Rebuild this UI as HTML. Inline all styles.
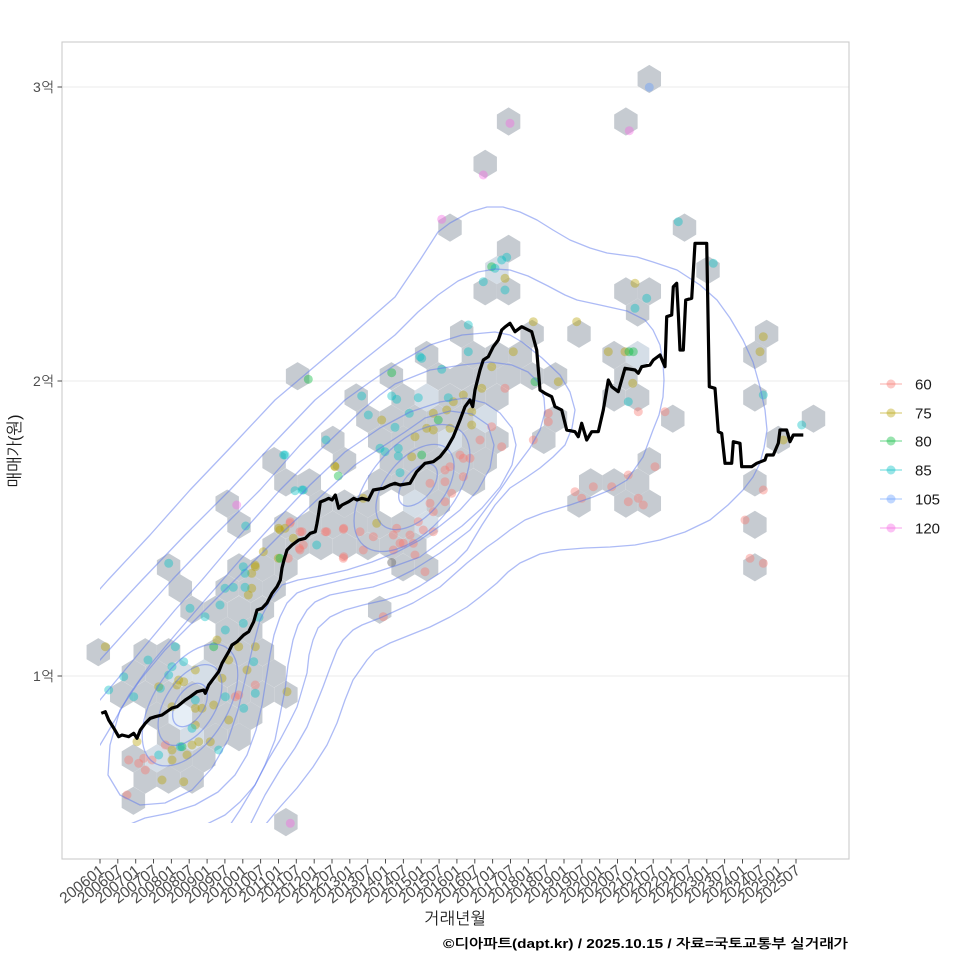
<!DOCTYPE html>
<html><head><meta charset="utf-8"><style>
html,body{margin:0;padding:0;background:#fff;}
svg{display:block;}
text{font-family:"Liberation Sans","NanumGothic","Noto Sans CJK KR",sans-serif;}
</style></head><body>
<svg width="960" height="960" viewBox="0 0 960 960" xmlns="http://www.w3.org/2000/svg">
<defs>
<polygon id="hx" points="0,-14.1 11.72,-7.05 11.72,7.05 0,14.1 -11.72,7.05 -11.72,-7.05"/>
<clipPath id="pc"><rect x="62" y="42" width="787" height="817"/></clipPath>
<clipPath id="cc"><rect x="100" y="79" width="713" height="744"/></clipPath>
</defs>
<rect width="960" height="960" fill="#fff"/>
<g stroke="#ebebeb" stroke-width="1.1">
<line x1="62" y1="87" x2="849" y2="87"/><line x1="62" y1="381" x2="849" y2="381"/><line x1="62" y1="676" x2="849" y2="676"/>
</g>
<g clip-path="url(#pc)">
<g fill="#c6cbd1">
<use href="#hx" x="649.3" y="79"/>
<use href="#hx" x="508.6" y="121.5"/><use href="#hx" x="625.9" y="121.5"/>
<use href="#hx" x="485.2" y="163.9"/>
<use href="#hx" x="450" y="227.6"/><use href="#hx" x="684.5" y="227.6"/>
<use href="#hx" x="508.6" y="248.8"/>
<use href="#hx" x="708" y="270.1"/>
<use href="#hx" x="485.2" y="291.3"/><use href="#hx" x="508.6" y="291.3"/><use href="#hx" x="625.9" y="291.3"/><use href="#hx" x="649.3" y="291.3"/>
<use href="#hx" x="637.6" y="312.5"/>
<use href="#hx" x="461.7" y="333.8"/><use href="#hx" x="532.1" y="333.8"/><use href="#hx" x="579" y="333.8"/><use href="#hx" x="766.6" y="333.8"/>
<use href="#hx" x="426.6" y="355"/><use href="#hx" x="473.4" y="355"/><use href="#hx" x="496.9" y="355"/><use href="#hx" x="520.3" y="355"/><use href="#hx" x="614.1" y="355"/><use href="#hx" x="754.9" y="355"/>
<use href="#hx" x="297.6" y="376.2"/><use href="#hx" x="391.4" y="376.2"/><use href="#hx" x="438.3" y="376.2"/><use href="#hx" x="461.7" y="376.2"/><use href="#hx" x="485.2" y="376.2"/><use href="#hx" x="508.6" y="376.2"/><use href="#hx" x="532.1" y="376.2"/><use href="#hx" x="555.5" y="376.2"/><use href="#hx" x="625.9" y="376.2"/>
<use href="#hx" x="356.2" y="397.5"/><use href="#hx" x="403.1" y="397.5"/><use href="#hx" x="450" y="397.5"/><use href="#hx" x="473.4" y="397.5"/><use href="#hx" x="496.9" y="397.5"/><use href="#hx" x="614.1" y="397.5"/><use href="#hx" x="637.6" y="397.5"/><use href="#hx" x="754.9" y="397.5"/>
<use href="#hx" x="367.9" y="418.7"/><use href="#hx" x="391.4" y="418.7"/><use href="#hx" x="414.8" y="418.7"/><use href="#hx" x="438.3" y="418.7"/><use href="#hx" x="461.7" y="418.7"/><use href="#hx" x="555.5" y="418.7"/><use href="#hx" x="672.8" y="418.7"/><use href="#hx" x="813.5" y="418.7"/>
<use href="#hx" x="332.8" y="439.9"/><use href="#hx" x="379.7" y="439.9"/><use href="#hx" x="403.1" y="439.9"/><use href="#hx" x="426.6" y="439.9"/><use href="#hx" x="473.4" y="439.9"/><use href="#hx" x="496.9" y="439.9"/><use href="#hx" x="543.8" y="439.9"/><use href="#hx" x="778.3" y="439.9"/>
<use href="#hx" x="274.1" y="461.1"/><use href="#hx" x="344.5" y="461.1"/><use href="#hx" x="391.4" y="461.1"/><use href="#hx" x="414.8" y="461.1"/><use href="#hx" x="438.3" y="461.1"/><use href="#hx" x="461.7" y="461.1"/><use href="#hx" x="485.2" y="461.1"/><use href="#hx" x="649.3" y="461.1"/>
<use href="#hx" x="285.9" y="482.4"/><use href="#hx" x="309.3" y="482.4"/><use href="#hx" x="379.7" y="482.4"/><use href="#hx" x="403.1" y="482.4"/><use href="#hx" x="426.6" y="482.4"/><use href="#hx" x="450" y="482.4"/><use href="#hx" x="473.4" y="482.4"/><use href="#hx" x="590.7" y="482.4"/><use href="#hx" x="614.1" y="482.4"/><use href="#hx" x="637.6" y="482.4"/><use href="#hx" x="754.9" y="482.4"/>
<use href="#hx" x="227.2" y="503.6"/><use href="#hx" x="321" y="503.6"/><use href="#hx" x="344.5" y="503.6"/><use href="#hx" x="367.9" y="503.6"/><use href="#hx" x="438.3" y="503.6"/><use href="#hx" x="579" y="503.6"/><use href="#hx" x="625.9" y="503.6"/><use href="#hx" x="649.3" y="503.6"/>
<use href="#hx" x="239" y="524.8"/><use href="#hx" x="285.9" y="524.8"/><use href="#hx" x="309.3" y="524.8"/><use href="#hx" x="332.8" y="524.8"/><use href="#hx" x="356.2" y="524.8"/><use href="#hx" x="379.7" y="524.8"/><use href="#hx" x="403.1" y="524.8"/><use href="#hx" x="754.9" y="524.8"/>
<use href="#hx" x="274.1" y="546.1"/><use href="#hx" x="297.6" y="546.1"/><use href="#hx" x="321" y="546.1"/><use href="#hx" x="344.5" y="546.1"/><use href="#hx" x="367.9" y="546.1"/><use href="#hx" x="391.4" y="546.1"/><use href="#hx" x="414.8" y="546.1"/>
<use href="#hx" x="168.6" y="567.3"/><use href="#hx" x="239" y="567.3"/><use href="#hx" x="262.4" y="567.3"/><use href="#hx" x="285.9" y="567.3"/><use href="#hx" x="403.1" y="567.3"/><use href="#hx" x="426.6" y="567.3"/><use href="#hx" x="754.9" y="567.3"/>
<use href="#hx" x="180.3" y="588.5"/><use href="#hx" x="227.2" y="588.5"/><use href="#hx" x="250.7" y="588.5"/><use href="#hx" x="274.1" y="588.5"/>
<use href="#hx" x="192.1" y="609.8"/><use href="#hx" x="215.5" y="609.8"/><use href="#hx" x="239" y="609.8"/><use href="#hx" x="262.4" y="609.8"/><use href="#hx" x="379.7" y="609.8"/>
<use href="#hx" x="227.2" y="631"/><use href="#hx" x="250.7" y="631"/>
<use href="#hx" x="98.3" y="652.2"/><use href="#hx" x="145.2" y="652.2"/><use href="#hx" x="168.6" y="652.2"/><use href="#hx" x="215.5" y="652.2"/><use href="#hx" x="239" y="652.2"/><use href="#hx" x="262.4" y="652.2"/>
<use href="#hx" x="133.4" y="673.4"/><use href="#hx" x="156.9" y="673.4"/><use href="#hx" x="227.2" y="673.4"/><use href="#hx" x="250.7" y="673.4"/><use href="#hx" x="274.1" y="673.4"/>
<use href="#hx" x="121.7" y="694.7"/><use href="#hx" x="145.2" y="694.7"/><use href="#hx" x="168.6" y="694.7"/><use href="#hx" x="192.1" y="694.7"/><use href="#hx" x="215.5" y="694.7"/><use href="#hx" x="239" y="694.7"/><use href="#hx" x="262.4" y="694.7"/><use href="#hx" x="285.9" y="694.7"/>
<use href="#hx" x="156.9" y="715.9"/><use href="#hx" x="203.8" y="715.9"/><use href="#hx" x="227.2" y="715.9"/><use href="#hx" x="250.7" y="715.9"/>
<use href="#hx" x="168.6" y="737.1"/><use href="#hx" x="215.5" y="737.1"/><use href="#hx" x="239" y="737.1"/>
<use href="#hx" x="133.4" y="758.4"/><use href="#hx" x="180.3" y="758.4"/><use href="#hx" x="203.8" y="758.4"/>
<use href="#hx" x="145.2" y="779.6"/><use href="#hx" x="168.6" y="779.6"/><use href="#hx" x="192.1" y="779.6"/>
<use href="#hx" x="133.4" y="800.8"/>
<use href="#hx" x="285.9" y="822.1"/>
</g>
<g fill="#d5dee7">
<use href="#hx" x="496.9" y="270.1"/><use href="#hx" x="637.6" y="355"/><use href="#hx" x="426.6" y="397.5"/><use href="#hx" x="485.2" y="418.7"/><use href="#hx" x="450" y="439.9"/><use href="#hx" x="414.8" y="503.6"/><use href="#hx" x="426.6" y="524.8"/>
<use href="#hx" x="180.3" y="673.4"/><use href="#hx" x="203.8" y="673.4"/><use href="#hx" x="192.1" y="737.1"/><use href="#hx" x="156.9" y="758.4"/>
</g>
<g fill="#e6eef6">
<use href="#hx" x="180.3" y="715.9"/>
</g>
<g fill="#F8766D" fill-opacity="0.4">
<circle cx="450" cy="466.7" r="4.5"/><circle cx="445" cy="470" r="4.5"/><circle cx="463.3" cy="458.3" r="4.5"/><circle cx="470" cy="458.3" r="4.5"/><circle cx="460" cy="455" r="4.5"/><circle cx="430" cy="483.3" r="4.5"/><circle cx="445" cy="481.7" r="4.5"/><circle cx="451.7" cy="493.3" r="4.5"/><circle cx="463.3" cy="476.7" r="4.5"/><circle cx="430" cy="503.3" r="4.5"/><circle cx="433.3" cy="511.7" r="4.5"/><circle cx="445" cy="501.7" r="4.5"/><circle cx="418.3" cy="521.7" r="4.5"/><circle cx="396.7" cy="528.3" r="4.5"/><circle cx="410" cy="535" r="4.5"/><circle cx="423.3" cy="530" r="4.5"/><circle cx="433.3" cy="531.7" r="4.5"/><circle cx="393.3" cy="535" r="4.5"/><circle cx="400" cy="543.3" r="4.5"/><circle cx="413.3" cy="543.3" r="4.5"/><circle cx="373.3" cy="536.7" r="4.5"/><circle cx="360" cy="531.7" r="4.5"/><circle cx="343.3" cy="529.3" r="4.5"/><circle cx="326.7" cy="531.7" r="4.5"/><circle cx="363.3" cy="550" r="4.5"/><circle cx="393.3" cy="550" r="4.5"/><circle cx="415" cy="555" r="4.5"/><circle cx="425" cy="571.7" r="4.5"/><circle cx="343.3" cy="558.3" r="4.5"/><circle cx="290" cy="523.3" r="4.5"/><circle cx="300" cy="531.7" r="4.5"/><circle cx="303.3" cy="545" r="4.5"/><circle cx="491.7" cy="426.7" r="4.5"/><circle cx="480" cy="440" r="4.5"/><circle cx="501.7" cy="446.7" r="4.5"/><circle cx="383.3" cy="616.7" r="4.5"/><circle cx="505" cy="388.3" r="4.5"/><circle cx="255.3" cy="685" r="4.5"/><circle cx="235.3" cy="696.7" r="4.5"/><circle cx="238.7" cy="695" r="4.5"/><circle cx="165.3" cy="745" r="4.5"/><circle cx="143.7" cy="758.3" r="4.5"/><circle cx="128.7" cy="760" r="4.5"/><circle cx="138.7" cy="763.3" r="4.5"/><circle cx="145.3" cy="770" r="4.5"/><circle cx="152" cy="760" r="4.5"/><circle cx="127" cy="795" r="4.5"/><circle cx="548.3" cy="413.3" r="4.5"/><circle cx="548.3" cy="421.7" r="4.5"/><circle cx="533.3" cy="440" r="4.5"/><circle cx="638.3" cy="411.7" r="4.5"/><circle cx="665" cy="411.7" r="4.5"/><circle cx="655" cy="466.7" r="4.5"/><circle cx="628.3" cy="475" r="4.5"/><circle cx="575" cy="491.7" r="4.5"/><circle cx="581.7" cy="498.3" r="4.5"/><circle cx="593.3" cy="486.7" r="4.5"/><circle cx="611.7" cy="486.7" r="4.5"/><circle cx="628.3" cy="501.7" r="4.5"/><circle cx="638.3" cy="498.3" r="4.5"/><circle cx="643.3" cy="505" r="4.5"/><circle cx="763.3" cy="490" r="4.5"/><circle cx="745" cy="520" r="4.5"/><circle cx="750" cy="558.3" r="4.5"/><circle cx="763.3" cy="563.3" r="4.5"/><circle cx="300" cy="550" r="4.5"/><circle cx="288.3" cy="558.3" r="4.5"/><circle cx="403.3" cy="543.3" r="4.5"/><circle cx="302" cy="531.7" r="4.5"/><circle cx="325.3" cy="531.7" r="4.5"/><circle cx="343.7" cy="528.3" r="4.5"/><circle cx="299.3" cy="548.3" r="4.5"/><circle cx="343.7" cy="556.7" r="4.5"/><circle cx="290.3" cy="521.7" r="4.5"/>
</g>
<g fill="#B79F00" fill-opacity="0.4">
<circle cx="381.7" cy="420" r="4.5"/><circle cx="426.7" cy="428.3" r="4.5"/><circle cx="433.3" cy="430" r="4.5"/><circle cx="433.3" cy="413.3" r="4.5"/><circle cx="446.7" cy="410" r="4.5"/><circle cx="453.3" cy="401.7" r="4.5"/><circle cx="463.3" cy="395" r="4.5"/><circle cx="471.7" cy="411.7" r="4.5"/><circle cx="471.7" cy="425" r="4.5"/><circle cx="450" cy="428.3" r="4.5"/><circle cx="415" cy="436.7" r="4.5"/><circle cx="411.7" cy="456.7" r="4.5"/><circle cx="481.7" cy="388.3" r="4.5"/><circle cx="491.7" cy="366.7" r="4.5"/><circle cx="335" cy="466.7" r="4.5"/><circle cx="363.3" cy="498.3" r="4.5"/><circle cx="376.7" cy="523.3" r="4.5"/><circle cx="280" cy="530" r="4.5"/><circle cx="285" cy="528.3" r="4.5"/><circle cx="293.3" cy="538.3" r="4.5"/><circle cx="263.3" cy="551.7" r="4.5"/><circle cx="278.3" cy="558.3" r="4.5"/><circle cx="255" cy="565" r="4.5"/><circle cx="251.7" cy="573.3" r="4.5"/><circle cx="251.7" cy="588.3" r="4.5"/><circle cx="248.3" cy="595" r="4.5"/><circle cx="255.3" cy="566.7" r="4.5"/><circle cx="217" cy="640" r="4.5"/><circle cx="228.7" cy="660" r="4.5"/><circle cx="238.7" cy="646.7" r="4.5"/><circle cx="255.3" cy="646.7" r="4.5"/><circle cx="247" cy="670" r="4.5"/><circle cx="222" cy="678.3" r="4.5"/><circle cx="195.3" cy="670" r="4.5"/><circle cx="177" cy="685" r="4.5"/><circle cx="178.7" cy="680" r="4.5"/><circle cx="183.7" cy="681.7" r="4.5"/><circle cx="158.7" cy="686.7" r="4.5"/><circle cx="172" cy="706.7" r="4.5"/><circle cx="195.3" cy="708.3" r="4.5"/><circle cx="202" cy="708.3" r="4.5"/><circle cx="213.7" cy="705" r="4.5"/><circle cx="195.3" cy="725" r="4.5"/><circle cx="228.7" cy="720" r="4.5"/><circle cx="192" cy="745" r="4.5"/><circle cx="198.7" cy="741.7" r="4.5"/><circle cx="210.3" cy="741.7" r="4.5"/><circle cx="172" cy="750" r="4.5"/><circle cx="187" cy="755" r="4.5"/><circle cx="172" cy="760" r="4.5"/><circle cx="162" cy="780" r="4.5"/><circle cx="183.7" cy="781.7" r="4.5"/><circle cx="105.3" cy="646.7" r="4.5"/><circle cx="137" cy="741.7" r="4.5"/><circle cx="287" cy="691.7" r="4.5"/><circle cx="635" cy="283.3" r="4.5"/><circle cx="533.3" cy="321.7" r="4.5"/><circle cx="576.7" cy="321.7" r="4.5"/><circle cx="763.3" cy="336.7" r="4.5"/><circle cx="760" cy="351.7" r="4.5"/><circle cx="608.3" cy="351.7" r="4.5"/><circle cx="625" cy="351.7" r="4.5"/><circle cx="513.3" cy="351.7" r="4.5"/><circle cx="558.3" cy="381.7" r="4.5"/><circle cx="632.7" cy="383.3" r="4.5"/><circle cx="783.3" cy="440" r="4.5"/><circle cx="505" cy="278.3" r="4.5"/><circle cx="334.7" cy="466" r="4.5"/><circle cx="278.7" cy="528.3" r="4.5"/>
</g>
<g fill="#00BA38" fill-opacity="0.4">
<circle cx="308.3" cy="379.3" r="4.5"/><circle cx="391.7" cy="372.7" r="4.5"/><circle cx="438.3" cy="420" r="4.5"/><circle cx="421.7" cy="455" r="4.5"/><circle cx="338.3" cy="476" r="4.5"/><circle cx="280" cy="558.3" r="4.5"/><circle cx="213.7" cy="646.7" r="4.5"/><circle cx="182" cy="746.7" r="4.5"/><circle cx="633.3" cy="351.7" r="4.5"/><circle cx="629" cy="351.7" r="4.5"/><circle cx="535" cy="381.7" r="4.5"/><circle cx="491.7" cy="266.7" r="4.5"/>
</g>
<g fill="#00BFC4" fill-opacity="0.4">
<circle cx="361.7" cy="396" r="4.5"/><circle cx="368.3" cy="415" r="4.5"/><circle cx="391.7" cy="396" r="4.5"/><circle cx="396.7" cy="399.3" r="4.5"/><circle cx="418.3" cy="397.7" r="4.5"/><circle cx="409.3" cy="413.3" r="4.5"/><circle cx="395" cy="427.3" r="4.5"/><circle cx="380" cy="448.3" r="4.5"/><circle cx="385" cy="451.7" r="4.5"/><circle cx="398.3" cy="448.3" r="4.5"/><circle cx="398.3" cy="456" r="4.5"/><circle cx="400" cy="472.7" r="4.5"/><circle cx="421.7" cy="358.3" r="4.5"/><circle cx="441.7" cy="369.3" r="4.5"/><circle cx="448.3" cy="397.7" r="4.5"/><circle cx="468.3" cy="351.7" r="4.5"/><circle cx="326" cy="440" r="4.5"/><circle cx="285" cy="455" r="4.5"/><circle cx="295" cy="490.7" r="4.5"/><circle cx="303.3" cy="490" r="4.5"/><circle cx="245.7" cy="526" r="4.5"/><circle cx="316.7" cy="545" r="4.5"/><circle cx="243.3" cy="566.7" r="4.5"/><circle cx="245" cy="573.3" r="4.5"/><circle cx="233.3" cy="587.3" r="4.5"/><circle cx="225" cy="588.3" r="4.5"/><circle cx="245" cy="587.3" r="4.5"/><circle cx="220" cy="605" r="4.5"/><circle cx="190" cy="608.3" r="4.5"/><circle cx="205" cy="616.7" r="4.5"/><circle cx="243.3" cy="623.3" r="4.5"/><circle cx="259" cy="617.3" r="4.5"/><circle cx="168.7" cy="563.3" r="4.5"/><circle cx="225.3" cy="630" r="4.5"/><circle cx="253.7" cy="661.7" r="4.5"/><circle cx="175.3" cy="646.7" r="4.5"/><circle cx="148" cy="660" r="4.5"/><circle cx="172" cy="666.7" r="4.5"/><circle cx="168.7" cy="675" r="4.5"/><circle cx="183.7" cy="661.7" r="4.5"/><circle cx="123.7" cy="676.7" r="4.5"/><circle cx="108.7" cy="690" r="4.5"/><circle cx="133.7" cy="696.7" r="4.5"/><circle cx="160.3" cy="688.3" r="4.5"/><circle cx="195.3" cy="700" r="4.5"/><circle cx="225.3" cy="696.7" r="4.5"/><circle cx="243.7" cy="708.3" r="4.5"/><circle cx="255.3" cy="693.3" r="4.5"/><circle cx="192" cy="728.3" r="4.5"/><circle cx="180.3" cy="746.7" r="4.5"/><circle cx="158.7" cy="755" r="4.5"/><circle cx="218.7" cy="750" r="4.5"/><circle cx="713.3" cy="263.3" r="4.5"/><circle cx="646.7" cy="298.3" r="4.5"/><circle cx="635" cy="308.3" r="4.5"/><circle cx="763.3" cy="395" r="4.5"/><circle cx="628.3" cy="401.7" r="4.5"/><circle cx="801.7" cy="425" r="4.5"/><circle cx="506.7" cy="257.3" r="4.5"/><circle cx="501.7" cy="260" r="4.5"/><circle cx="495" cy="268.3" r="4.5"/><circle cx="483.3" cy="281.7" r="4.5"/><circle cx="505" cy="290" r="4.5"/><circle cx="468.3" cy="325" r="4.5"/><circle cx="420" cy="356.7" r="4.5"/><circle cx="678.3" cy="221.7" r="4.5"/><circle cx="283.7" cy="455" r="4.5"/><circle cx="302" cy="490" r="4.5"/>
</g>
<g fill="#619CFF" fill-opacity="0.4"><circle cx="649.3" cy="87.3" r="4.5"/></g>
<g fill="#F564E3" fill-opacity="0.4">
<circle cx="510" cy="123.3" r="4.5"/><circle cx="629.3" cy="130.7" r="4.5"/><circle cx="483.3" cy="175" r="4.5"/><circle cx="441.7" cy="219.3" r="4.5"/><circle cx="236.7" cy="505" r="4.5"/><circle cx="290.3" cy="823.3" r="4.5"/>
</g>
<circle cx="391.7" cy="562.5" r="4.5" fill="#6f6f6f" fill-opacity="0.5"/>
<g clip-path="url(#cc)" fill="none" stroke="#5b77ee" stroke-opacity="0.5" stroke-width="1.3" stroke-linejoin="round">
<path d="M60,635 L100,589 108,580 150,535 190,490 230,448 275,400 340,345 395,297 420,260 438,232 450,223 470,212 487,207 503,207 520,212 537,220 553,230 570,240 590,248 607,253 637,257 653,262 677,270 700,285 717,300 730,318 743,340 753,362 760,387 765,410 767,430 764,448 760,463 753,477 743,490 728,505 710,520 685,532 660,540 635,545 610,547 585,548 560,550 540,554 520,563 508,572 497,583 480,597 467,607 450,617 430,627 410,635 390,643 375,651 367,660 360,670 353,680 345,700 337,723 327,745 313,767 297,788 280,807 265,825"/>
<path d="M60,668 L100,625 142,580 185,535 230,490 272,445 315,400 355,367 395,335 418,312 438,295 458,281 478,272 495,269 510,270 528,276 548,286 565,295 577,300 600,305 627,311 645,320 653,330 660,345 663,363 664,380 663,397 659,415 653,430 643,457 627,480 610,490 593,497 570,505 543,513 525,520 510,530 497,540 487,547 467,563 440,587 413,603 380,618 362,625 353,630 343,640 337,650 330,668 323,687 315,707 307,727 295,748 280,770 265,795 250,825"/>
<path d="M60,703 L100,660 136,620 172,580 215,535 260,490 300,445 345,400 370,382 395,365 430,345 462,335 495,332 510,335 522,342 542,358 560,375 570,392 575,410 572,428 565,445 553,457 540,468 527,477 510,488 495,505 482,525 467,550 455,562 440,573 420,586 407,593 385,600 363,605 345,610 330,617 318,628 313,640 309,655 307,673 302,690 297,707 289,723 280,740 268,760 255,785 240,810 230,825"/>
<path d="M90,712 L100,700 125,670 150,640 175,610 202,580 240,535 280,490 320,450 362,410 380,395 395,384 430,370 462,365 490,362 512,365 528,372 538,382 544,398 545,412 540,430 530,448 515,468 500,490 485,510 470,530 457,540 440,553 413,570 393,580 373,587 350,591 330,595 315,602 307,610 298,625 293,640 288,665 285,690 280,715 275,740 265,765 255,785 240,802 225,815 205,825"/>
<path d="M90,760 L100,745 115,720 129,695 150,665 175,635 205,600 240,560 275,522 310,485 345,452 380,428 410,412 440,402 465,398 485,403 500,413 512,428 516,445 512,465 500,487 482,508 462,526 440,542 420,557 395,566 373,573 350,578 330,583 310,588 297,593 287,603 280,617 274,635 270,655 266,680 262,705 256,730 247,755 235,775 218,792 195,805 170,813 145,818 128,825"/>
<path d="M140,680 L165,650 195,620 225,590 255,560 285,530 320,497 355,465 385,445 405,432 425,418 450,411 472,414 488,425 494,445 490,468 478,490 460,510 440,526 420,540 397,552 372,562 347,570 320,576 298,580 282,585 270,600 260,620 252,650 245,680 238,710 228,740 212,768 192,790 165,803 140,805 120,795 108,775 110,745 120,710 Z"/>
<ellipse cx="190" cy="705" rx="68" ry="37" transform="rotate(-58 190 705)"/>
<ellipse cx="190" cy="705" rx="45" ry="25" transform="rotate(-58 190 705)"/>
<ellipse cx="190" cy="705" rx="24" ry="14" transform="rotate(-58 190 705)"/>
<ellipse cx="412" cy="488" rx="75" ry="42" transform="rotate(-50 412 488)"/>
<ellipse cx="415" cy="487" rx="50" ry="29" transform="rotate(-50 415 487)"/>
<ellipse cx="418" cy="485" rx="25" ry="14" transform="rotate(-50 418 485)"/>
</g>
<polyline fill="none" stroke="#000" stroke-width="3.2" stroke-linejoin="round" points="101.3,713.3 105.3,711.7 108.7,720 113.7,728 118.7,736.7 122,735 128.7,736.7 133.7,733.3 137,738.3 140.3,730 145.3,723.3 150.3,718.3 155.3,716.7 162,715 172,708 177,706.7 185.3,700 190.3,696.7 197,691.7 203.7,690 205.3,693.3 208.7,685 213.7,678.3 218.7,671.7 222,663.3 228.7,651.7 232,645 237,641.7 243.7,635 248.7,631.7 253.7,621.7 257,610 262,608.3 267,603 272,593.3 277,586.7 280.3,580 282,568 284,560 287,550 292,545 298.7,540 305.3,538.3 310.3,533.3 315.3,531.7 317,523.3 318.7,513.3 320.3,502 325.3,500 328.7,498.3 332,500 335.3,495 338.7,508.3 342,505 348.7,501.7 353.7,498.3 357,500 362,498.3 368.3,500 373.3,490 383.3,488.3 390,485 395,483.3 400,485 410,483.3 416.7,471.7 425,463.3 433.3,461.7 440,456.7 446.7,448.3 453.3,436.7 460,420 465,406.7 470,400 472.7,406.7 475,390 480,370 483.3,360 488.3,356.7 493.3,346.7 498.3,340 501.7,330 505,327 510,323.3 515,331.7 521.7,326.7 528.3,330 531.7,331.7 536.7,350 540,390 545,393.3 551.7,396.7 555,406.7 561.7,410 566.7,430 575,431.7 578.3,436.7 581.7,423.3 586.7,440 591.7,431.7 598.3,431.7 603.3,410 608.3,380 611.7,386.7 618.3,391.7 625,368.3 635,370 638.3,373.3 641.7,366.7 650,365 653.3,360 660,355 665,366.7 666.7,316.7 671.7,315 673.3,286.7 676.7,283.3 678.3,313.3 680,350 683.3,350 685.7,300 691.7,298.3 695,243.3 706.7,243.3 709.3,386.7 715,388.3 718.3,431.7 721.7,433.3 725,463.3 731.7,463.3 733.3,441.7 740,443.3 741.7,466.7 751.7,466.7 756.7,463.3 765,460 766.7,455 773.3,455 778.3,443.3 780,430 786.7,430 790,441.7 793.3,435 803.3,435"/>
</g>
<rect x="62" y="42" width="787" height="817" fill="none" stroke="#cccccc" stroke-width="1.1"/>
<g stroke="#4d4d4d" stroke-width="1">
<line x1="57.5" y1="87" x2="62" y2="87"/><line x1="57.5" y1="381" x2="62" y2="381"/><line x1="57.5" y1="676" x2="62" y2="676"/>
</g>
<g fill="#4d4d4d" font-size="14" text-anchor="end">
<text x="54" y="92">3억</text><text x="54" y="386">2억</text><text x="54" y="681">1억</text>
</g>
<g stroke="#4d4d4d" stroke-width="1">
<line x1="100" y1="859" x2="100" y2="863.5"/><line x1="117.8" y1="859" x2="117.8" y2="863.5"/><line x1="135.7" y1="859" x2="135.7" y2="863.5"/><line x1="153.5" y1="859" x2="153.5" y2="863.5"/><line x1="171.4" y1="859" x2="171.4" y2="863.5"/><line x1="189.2" y1="859" x2="189.2" y2="863.5"/><line x1="207.1" y1="859" x2="207.1" y2="863.5"/><line x1="224.9" y1="859" x2="224.9" y2="863.5"/><line x1="242.8" y1="859" x2="242.8" y2="863.5"/><line x1="260.6" y1="859" x2="260.6" y2="863.5"/><line x1="278.5" y1="859" x2="278.5" y2="863.5"/><line x1="296.3" y1="859" x2="296.3" y2="863.5"/><line x1="314.2" y1="859" x2="314.2" y2="863.5"/><line x1="332" y1="859" x2="332" y2="863.5"/><line x1="349.8" y1="859" x2="349.8" y2="863.5"/><line x1="367.7" y1="859" x2="367.7" y2="863.5"/><line x1="385.5" y1="859" x2="385.5" y2="863.5"/><line x1="403.4" y1="859" x2="403.4" y2="863.5"/><line x1="421.2" y1="859" x2="421.2" y2="863.5"/><line x1="439.1" y1="859" x2="439.1" y2="863.5"/><line x1="456.9" y1="859" x2="456.9" y2="863.5"/><line x1="474.8" y1="859" x2="474.8" y2="863.5"/><line x1="492.6" y1="859" x2="492.6" y2="863.5"/><line x1="510.5" y1="859" x2="510.5" y2="863.5"/><line x1="528.3" y1="859" x2="528.3" y2="863.5"/><line x1="546.2" y1="859" x2="546.2" y2="863.5"/><line x1="564" y1="859" x2="564" y2="863.5"/><line x1="581.8" y1="859" x2="581.8" y2="863.5"/><line x1="599.7" y1="859" x2="599.7" y2="863.5"/><line x1="617.5" y1="859" x2="617.5" y2="863.5"/><line x1="635.4" y1="859" x2="635.4" y2="863.5"/><line x1="653.2" y1="859" x2="653.2" y2="863.5"/><line x1="671.1" y1="859" x2="671.1" y2="863.5"/><line x1="688.9" y1="859" x2="688.9" y2="863.5"/><line x1="706.8" y1="859" x2="706.8" y2="863.5"/><line x1="724.6" y1="859" x2="724.6" y2="863.5"/><line x1="742.5" y1="859" x2="742.5" y2="863.5"/><line x1="760.3" y1="859" x2="760.3" y2="863.5"/><line x1="778.2" y1="859" x2="778.2" y2="863.5"/><line x1="796" y1="859" x2="796" y2="863.5"/>
</g>
<g fill="#4d4d4d" font-size="15.5" text-anchor="end">
<text transform="translate(102,868) rotate(-38)" dy="0.35em">200601</text>
<text transform="translate(119.8,868) rotate(-38)" dy="0.35em">200607</text>
<text transform="translate(137.7,868) rotate(-38)" dy="0.35em">200701</text>
<text transform="translate(155.5,868) rotate(-38)" dy="0.35em">200707</text>
<text transform="translate(173.4,868) rotate(-38)" dy="0.35em">200801</text>
<text transform="translate(191.2,868) rotate(-38)" dy="0.35em">200807</text>
<text transform="translate(209.1,868) rotate(-38)" dy="0.35em">200901</text>
<text transform="translate(226.9,868) rotate(-38)" dy="0.35em">200907</text>
<text transform="translate(244.8,868) rotate(-38)" dy="0.35em">201001</text>
<text transform="translate(262.6,868) rotate(-38)" dy="0.35em">201007</text>
<text transform="translate(280.5,868) rotate(-38)" dy="0.35em">201101</text>
<text transform="translate(298.3,868) rotate(-38)" dy="0.35em">201107</text>
<text transform="translate(316.2,868) rotate(-38)" dy="0.35em">201201</text>
<text transform="translate(334,868) rotate(-38)" dy="0.35em">201207</text>
<text transform="translate(351.8,868) rotate(-38)" dy="0.35em">201301</text>
<text transform="translate(369.7,868) rotate(-38)" dy="0.35em">201307</text>
<text transform="translate(387.5,868) rotate(-38)" dy="0.35em">201401</text>
<text transform="translate(405.4,868) rotate(-38)" dy="0.35em">201407</text>
<text transform="translate(423.2,868) rotate(-38)" dy="0.35em">201501</text>
<text transform="translate(441.1,868) rotate(-38)" dy="0.35em">201507</text>
<text transform="translate(458.9,868) rotate(-38)" dy="0.35em">201601</text>
<text transform="translate(476.8,868) rotate(-38)" dy="0.35em">201607</text>
<text transform="translate(494.6,868) rotate(-38)" dy="0.35em">201701</text>
<text transform="translate(512.5,868) rotate(-38)" dy="0.35em">201707</text>
<text transform="translate(530.3,868) rotate(-38)" dy="0.35em">201801</text>
<text transform="translate(548.2,868) rotate(-38)" dy="0.35em">201807</text>
<text transform="translate(566,868) rotate(-38)" dy="0.35em">201901</text>
<text transform="translate(583.8,868) rotate(-38)" dy="0.35em">201907</text>
<text transform="translate(601.7,868) rotate(-38)" dy="0.35em">202001</text>
<text transform="translate(619.5,868) rotate(-38)" dy="0.35em">202007</text>
<text transform="translate(637.4,868) rotate(-38)" dy="0.35em">202101</text>
<text transform="translate(655.2,868) rotate(-38)" dy="0.35em">202107</text>
<text transform="translate(673.1,868) rotate(-38)" dy="0.35em">202201</text>
<text transform="translate(690.9,868) rotate(-38)" dy="0.35em">202207</text>
<text transform="translate(708.8,868) rotate(-38)" dy="0.35em">202301</text>
<text transform="translate(726.6,868) rotate(-38)" dy="0.35em">202307</text>
<text transform="translate(744.5,868) rotate(-38)" dy="0.35em">202401</text>
<text transform="translate(762.3,868) rotate(-38)" dy="0.35em">202407</text>
<text transform="translate(780.2,868) rotate(-38)" dy="0.35em">202501</text>
<text transform="translate(798,868) rotate(-38)" dy="0.35em">202507</text>
</g>
<text x="455" y="924" font-size="16.5" fill="#1a1a1a" text-anchor="middle">거래년월</text>
<text transform="translate(20,451) rotate(-90)" font-size="16.5" fill="#1a1a1a" text-anchor="middle">매매가(원)</text>
<text x="848" y="948" font-size="13" font-weight="bold" fill="#000" text-anchor="end" textLength="405" lengthAdjust="spacingAndGlyphs">©디아파트(dapt.kr) / 2025.10.15 / 자료=국토교통부 실거래가</text>
<g stroke-width="1.6" stroke-opacity="0.4">
<line x1="880" y1="384" x2="902" y2="384" stroke="#F8766D"/>
<line x1="880" y1="413" x2="902" y2="413" stroke="#B79F00"/>
<line x1="880" y1="441" x2="902" y2="441" stroke="#00BA38"/>
<line x1="880" y1="470" x2="902" y2="470" stroke="#00BFC4"/>
<line x1="880" y1="499" x2="902" y2="499" stroke="#619CFF"/>
<line x1="880" y1="528" x2="902" y2="528" stroke="#F564E3"/>
</g>
<g fill-opacity="0.4">
<circle cx="891" cy="384" r="4.5" fill="#F8766D"/>
<circle cx="891" cy="413" r="4.5" fill="#B79F00"/>
<circle cx="891" cy="441" r="4.5" fill="#00BA38"/>
<circle cx="891" cy="470" r="4.5" fill="#00BFC4"/>
<circle cx="891" cy="499" r="4.5" fill="#619CFF"/>
<circle cx="891" cy="528" r="4.5" fill="#F564E3"/>
</g>
<g font-size="15" fill="#1a1a1a">
<text x="915" y="389.5">60</text>
<text x="915" y="418.5">75</text>
<text x="915" y="446.5">80</text>
<text x="915" y="475.5">85</text>
<text x="915" y="504.5">105</text>
<text x="915" y="533.5">120</text>
</g>
</svg>
</body></html>
